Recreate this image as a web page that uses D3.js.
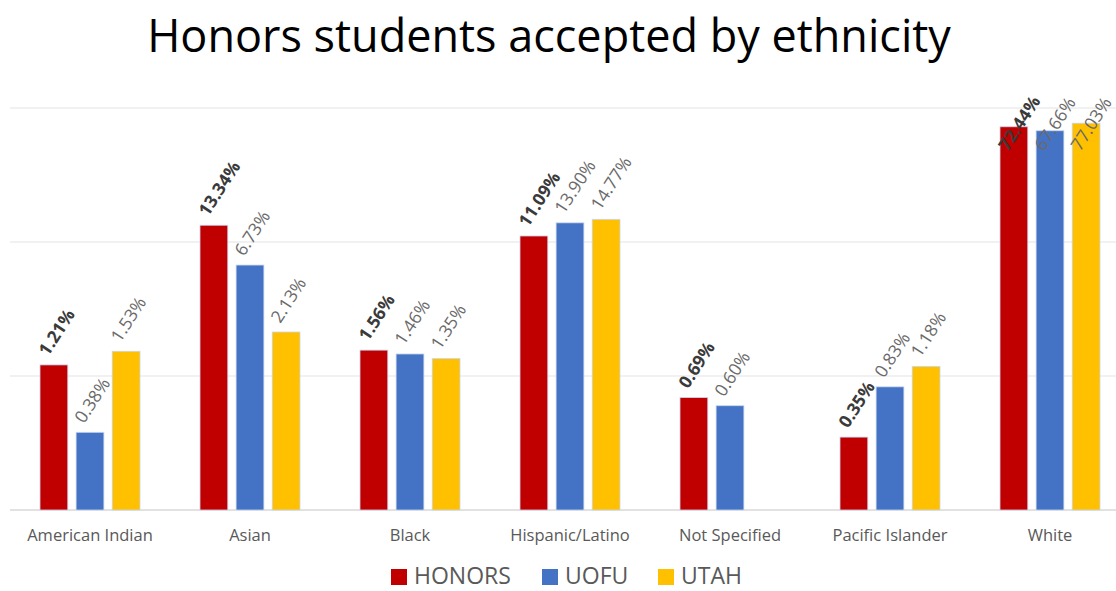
<!DOCTYPE html>
<html>
<head>
<meta charset="utf-8">
<script src="https://cdn.jsdelivr.net/npm/d3@7"></script>
<style>
  html, body { margin: 0; padding: 0; background: #fff; }
  svg { display: block; }
</style>
</head>
<body>
<svg id="chart" width="1116" height="591"></svg>
<script>
// Share of accepted students by ethnicity (percent), log-scaled bars
const categories = ["American Indian", "Asian", "Black", "Hispanic/Latino", "Not Specified", "Pacific Islander", "White"];
const seriesNames = ["HONORS", "UOFU", "UTAH"];
const honors = [1.21, 13.34, 1.56, 11.09, 0.69, 0.35, 72.44];
const uofu   = [0.38, 6.73, 1.46, 13.90, 0.60, 0.83, 67.66];
const utah   = [1.53, 2.13, 1.35, 14.77, null, 1.18, 77.03];
const gridValues = [0.1, 1, 10, 100];

const colors = { HONORS: "#C00000", UOFU: "#4472C4", UTAH: "#FFC000" };
const seriesValues = { HONORS: honors, UOFU: uofu, UTAH: utah };

const svg = d3.select("#chart");
const plot = { left: 10, right: 1116, top: 108, bottom: 510 };
const FONT = "'Open Sans', sans-serif";
// labels are pushed down so they never rise above the plot's top margin
const labelMinY = 152;

// Title
svg.append("text")
  .attr("x", 549).attr("y", 52)
  .attr("text-anchor", "middle")
  .attr("font-family", FONT)
  .attr("font-size", 45)
  .attr("fill", "#000")
  .text("Honors students accepted by ethnicity");

// Category bands: 160px step, 100px wide groups
const x0 = d3.scaleBand().domain(categories).range([plot.left, 1130]).paddingInner(0.375).paddingOuter(0.1875);
const x1 = d3.scaleBand().domain(seriesNames).range([0, x0.bandwidth()]).paddingInner(0.23);
const y = d3.scaleLog().domain([0.1, 100]).range([plot.bottom, plot.top]);

// Gridlines
svg.append("g").selectAll("line")
  .data(gridValues)
  .join("line")
  .attr("x1", plot.left).attr("x2", plot.right)
  .attr("y1", d => y(d)).attr("y2", d => y(d))
  .attr("stroke", d => d === 0.1 ? "#d9d9d9" : "#ececec")
  .attr("stroke-width", 1.5);

// Bars
const groups = svg.append("g").selectAll("g")
  .data(categories)
  .join("g")
  .attr("transform", d => `translate(${x0(d)},0)`);

const cells = groups.selectAll("g.cell")
  .data((c, i) => seriesNames.map(s => ({ s, v: seriesValues[s][i] })).filter(d => d.v != null))
  .join("g").attr("class", "cell");

cells.append("rect")
  .attr("x", d => x1(d.s))
  .attr("width", x1.bandwidth())
  .attr("y", d => y(d.v))
  .attr("height", d => plot.bottom - y(d.v))
  .attr("fill", d => colors[d.s])
  .attr("stroke", "#c9d6ee")
  .attr("stroke-width", 0.8);

// Rotated value labels
cells.append("text")
  .attr("transform", d => `translate(${x1(d.s) + 8},${Math.max(y(d.v) - 8, labelMinY)}) rotate(-57)`)
  .attr("font-family", FONT)
  .attr("font-size", 17.5)
  .attr("font-weight", d => d.s === "HONORS" ? 700 : 400)
  .attr("fill", d => d.s === "HONORS" ? "#3a3a3a" : "#6a6a6a")
  .text(d => d.v.toFixed(2) + "%");

// Category axis labels
const xAxis = d3.axisBottom(x0).tickSize(0).tickPadding(0);
const axisG = svg.append("g")
  .attr("transform", `translate(0,541)`)
  .call(xAxis);
axisG.select(".domain").remove();
axisG.selectAll("text")
  .attr("font-family", FONT)
  .attr("font-size", 16.5)
  .attr("fill", "#595959")
  .attr("dy", 0);

// Legend
const legendX = [391, 542, 658];
const legend = svg.append("g").selectAll("g")
  .data(seriesNames)
  .join("g")
  .attr("transform", (d, i) => `translate(${legendX[i]},0)`);
legend.append("rect")
  .attr("x", 0).attr("y", 569)
  .attr("width", 16).attr("height", 16)
  .attr("fill", d => colors[d]);
legend.append("text")
  .attr("x", 23).attr("y", 584)
  .attr("font-family", FONT)
  .attr("font-size", 23)
  .attr("fill", "#595959")
  .text(d => d);
</script>
</body>
</html>
